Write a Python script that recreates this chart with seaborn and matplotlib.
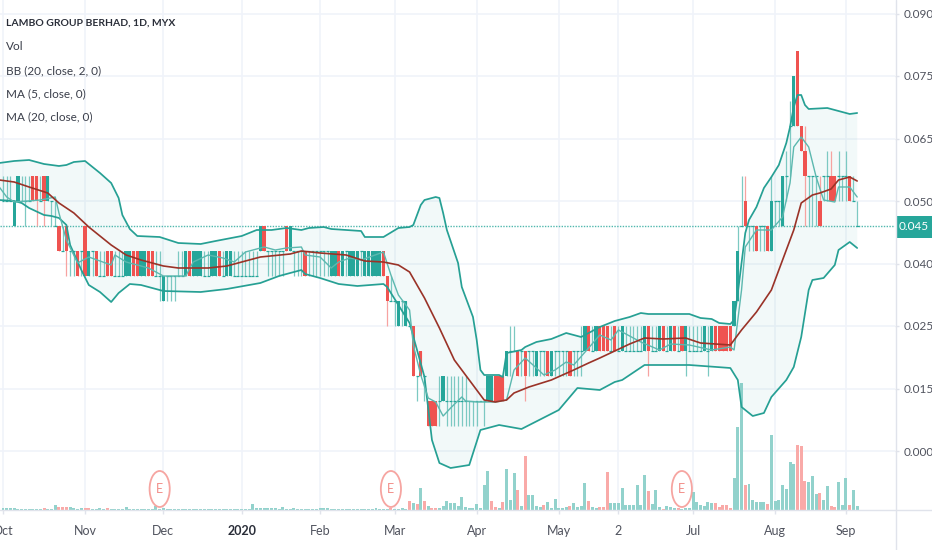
import numpy as np
import seaborn as sns
import matplotlib.pyplot as plt
from matplotlib.lines import Line2D
from matplotlib.patches import Ellipse, Rectangle

# prices are in thousandths of MYR, x is the bar number
opens = [50,50,50,45,50,50,50,50,55,55, 50,55,50,50,45,45,40,45,40,40,
         40,40,45,35,40,40,35,35,40,40, 35,35,35,35,35,40,40,35,35,40,
         40,35,35,30,35,35,35,35,35,35, 40,35,35,35,35,35,35,35,40,35,
         35,35,35,35,35,35,35,35,35,40, 45,40,40,40,40,40,45,40,40,40,
         40,40,40,40,40,40,40,40,35,35, 40,35,40,35,35,35,40,35,35,35,
         35,35,40,35,30,30,25,30,25,25, 25,15,20,15,10,10,10,10,10,10,
         10,10,10,10,10,10,10,10,10,10, 10,10,15,15,15,15,20,20,20,20,
         20,20,20,15,20,20,20,15,20,20, 20,20,20,20,20,20,20,25,20,20,
         25,25,25,20,25,20,20,20,20,20, 20,20,20,25,20,20,20,25,20,20,
         25,20,25,20,20,20,20,20,20,20, 20,25,25,25,25,25,25,30,45,50,
         45,45,45,45,45,45,40,50,50,45, 55,65,65,80,65,60,55,55,55,50,
         55,55,55,55,55,55,55,55,50,45]
closes = [50,50,50,50,55,50,50,50,50,50, 50,50,55,50,45,40,40,40,40,40,
          35,40,35,40,40,35,35,35,35,35, 35,35,35,40,40,35,35,40,40,35,
          35,35,35,35,35,35,35,35,35,40, 35,40,40,40,35,35,40,40,35,35,
          40,40,35,35,35,35,35,35,35,45, 40,40,40,40,40,40,40,45,40,40,
          40,35,40,40,40,40,40,40,40,40, 35,40,40,40,40,40,40,40,40,40,
          40,40,35,30,30,30,30,30,30,25, 15,15,15,15,5,5,5,10,15,10,
          10,10,10,10,10,10,10,10,10,10, 15,15,10,10,10,20,20,20,15,20,
          15,20,20,20,20,20,15,20,20,20, 20,20,15,20,20,20,25,20,20,25,
          20,20,20,20,20,20,25,20,20,20, 20,20,25,20,20,20,25,20,20,25,
          20,20,20,25,20,20,20,20,25,20, 25,20,20,20,20,20,30,40,45,45,
          45,45,40,45,45,40,50,50,50,55, 55,65,75,65,60,55,55,55,55,45,
          55,55,50,50,55,55,55,50,50,45]
highs = [55,55,55,50,55,55,55,55,55,55, 55,55,55,50,50,45,45,45,40,40,
         40,40,45,40,40,40,40,40,40,40, 40,40,40,40,40,40,40,40,40,40,
         40,40,40,35,35,35,35,40,40,40, 40,40,40,40,40,40,40,40,40,40,
         40,40,40,40,40,40,40,40,40,45, 45,40,40,40,40,40,45,45,40,40,
         40,40,40,40,40,40,40,40,40,40, 40,40,40,40,40,40,40,40,40,40,
         40,40,40,35,35,30,30,30,30,25, 25,15,20,15,10,10,10,15,15,15,
         15,15,15,15,15,10,10,10,10,10, 15,15,15,15,15,20,25,25,20,20,
         20,20,20,20,20,20,20,20,20,20, 20,20,20,20,20,25,25,25,25,25,
         25,25,25,25,25,25,25,25,25,25, 25,25,25,25,25,25,25,25,25,25,
         25,25,25,25,25,25,25,25,25,25, 25,25,25,25,25,25,30,45,55,55,
         45,45,45,45,45,45,55,50,50,55, 60,70,75,80,65,65,55,55,55,55,
         55,60,60,55,60,55,60,55,55,50]
lows = [50,50,50,45,50,50,45,50,50,45, 50,45,50,45,45,40,40,35,35,35,
        35,35,35,35,35,35,35,35,35,35, 35,35,35,35,35,35,35,35,35,35,
        35,35,30,30,30,30,30,35,35,35, 35,35,35,35,35,35,35,35,35,35,
        35,35,35,35,35,35,35,35,35,40, 40,35,35,35,35,35,40,40,35,35,
        35,35,35,35,35,35,35,35,35,35, 35,35,35,35,35,35,35,35,35,35,
        35,35,35,25,30,25,25,25,25,25, 15,10,15,10,5,5,5,5,10,5,
        5,5,5,5,5,5,5,5,10,5, 10,10,10,10,10,15,15,20,15,15,
        10,15,15,15,15,15,15,15,15,15, 15,15,15,15,15,15,20,20,20,20,
        20,20,20,20,20,20,20,20,20,20, 20,20,20,15,20,20,20,20,20,20,
        20,20,20,15,20,20,20,20,20,15, 20,20,20,20,20,20,25,30,45,45,
        40,40,40,40,40,40,40,45,45,45, 50,55,65,65,60,45,45,45,45,45,
        50,50,50,50,50,50,50,50,50,45]

volumes = [2,2,2,2,1,1,1,1,1,1, 1,2,1,1,5,3,3,3,3,2,
           1,2,2,2,1,1,2,1,2,1, 1,1,1,3,1,1,1,1,1,1,
           1,4,1,2,1,1,1,1,1,1, 1,1,1,1,1,1,1,1,1,1,
           1,1,1,1,1,1,1,6,2,2, 2,2,2,2,1,3,1,1,2,1,
           1,1,1,1,1,2,2,2,1,1, 1,1,1,1,1,1,1,1,1,1,
           2,1,1,1,2,1,1,2,1,9, 7,6,22,9,4,2,2,2,4,9,
           7,7,4,13,3,2,2,6,2,25, 39,9,3,2,8,41,10,37,20,4,
           54,15,15,4,3,5,8,2,11,2, 2,3,4,7,3,4,27,9,3,2,
           3,3,38,7,7,7,22,5,5,5, 25,5,35,19,6,20,3,1,4,3,
           2,2,1,2,2,18,8,5,4,8, 7,7,3,5,5,2,32,83,127,25,
           26,10,8,8,8,6,75,9,10,25, 21,48,46,65,64,29,28,34,16,17,
           10,24,4,3,28,5,32,5,20,4]
vol_red = [11,15,16,17,22,23,28,104,109,111,113,115,116,131,132,134,138,140,145,152,157,
           160,161,162,173,177,181,191,192,193,194,195,199,205,213,214,215,219,222,223,227]

bb_upper_x = [-1,3,7,11,15,17,19,22,24,26,29,31,32,34,36,42,47,53,57,64,68,72,76,80,82,86,88,96,97,102,106,
              109,110,112,113,116,117,118,119,122,123,126,127,128,129,133,134,135,139,140,143,147,151,155,157,
              160,164,168,171,173,184,187,190,192,195,196,197,199,200,202,204,206,208,210,211,212,213,214,215,
              216,221,223,224,227,229]
bb_upper = [57.6,58,58.2,57.4,57,57.2,57.8,58,56.8,55.6,53.6,50.6,47.2,44.4,43,42.8,41.6,41.4,42,43,44.2,44.2,44.6,44.2,44.6,44.8,44.4,44,42.8,42.8,44.6,
            44.8,45.2,49.2,50.2,50.8,50.6,47.6,44.2,37.6,32.8,26.8,22.2,16.2,15.2,15.2,14.8,19.6,20.2,20.8,21.8,22.4,23.6,22.8,23.6,
            24.8,26,26.8,27.6,27.4,27.4,26.6,26.4,25.6,25.4,26.2,31.6,43.6,46.2,48.8,52.6,54.8,57.2,61.6,64.8,68.8,71.2,71.2,69.2,
            68.4,68.6,68.2,68,67.4,67.6]
bb_lower_x = [-1,3,5,7,11,13,15,17,18,21,23,26,29,31,34,37,43,53,60,69,74,80,81,85,90,95,102,103,109,113,115,117,120,125,128,133,
              139,149,154,160,164,166,172,184,195,197,198,201,204,206,210,212,214,216,217,220,223,224,227,229]
bb_lower = [50.2,50,49.6,48.6,47.2,47,46.6,45.2,41.2,36.2,33.2,31.8,29.8,31.6,33.4,33.2,32,31.8,32.4,33.6,35,36.2,35.4,34.6,33.4,33,33.4,32.8,25.6,14.8,2.2,-2.4,-3.4,-2.8,4.2,5.2,
            4.4,8.2,12.6,12.2,13.8,14.2,17.2,17.2,16.6,14.2,8.8,7,7.6,10.8,14.2,16.8,22.8,32.2,34.2,34.6,37.2,40.2,41.8,40.6]
ma20_x = [-1,3,7,12,15,19,23,29,33,37,43,47,55,60,64,69,77,80,85,92,97,102,106,109,113,117,121,125,129,132,135,137,141,147,153,157,160,
          168,172,177,183,187,195,198,202,206,209,212,214,217,219,222,224,227,229]
ma20 = [54.2,53.8,52.8,51.6,49.6,47.6,44.8,41.2,39.2,38.2,37,36.6,36.6,37,37.8,38.8,39.4,40,39.6,39.2,38,37.8,37.2,35.8,30.6,24.6,18.2,14.2,10.2,9.8,10.2,11.6,12.8,14.2,16.2,17.6,18.6,
        21.4,22.6,22.4,22.6,21.6,21.2,24.2,27.8,32.2,38.2,44.2,49.6,51.2,51.6,52.4,54.2,54.8,54]
ma5_x = [-1,1,3,10,14,15,17,20,23,29,30,33,39,43,49,51,55,59,62,65,70,73,76,80,81,85,88,90,93,96,102,104,106,109,110,112,114,116,118,120,123,124,127,132,135,
         137,140,143,145,148,151,153,157,160,163,165,171,176,179,184,190,195,196,198,199,202,206,209,211,212,214,216,218,220,223,224,227,229]
ma5 = [52.8,50.8,49.8,50.2,50.8,47.6,42.2,37.6,38.8,37.2,39.2,37.8,36.6,35,35,37.8,39.2,38.6,37.8,39.8,40.8,40.2,40.6,40.8,39.2,38.8,36.6,37.8,38.6,38.2,39.8,35.2,31.2,28.2,21.2,15.2,10.6,9.8,7,8.6,10.8,10,9.8,9.8,10.2,
       16.2,18.6,16.6,15.2,16.2,17.8,17.2,20.6,23.2,22.2,24.2,21.8,20.2,21.4,21.2,20.2,20.8,20.2,32.2,40.8,44.2,44.2,46.8,53.6,60.8,62.8,60.8,54.8,50.2,49.8,52.8,52.8,50.8]

month_ticks = [0,22,43,64,85,105,127,149,165,185,207,226]
month_labels = ['Oct','Nov','Dec','2020','Feb','Mar','Apr','May','2','Jul','Aug','Sep']
price_ticks = [0,12.5,25,37.5,50,62.5,75,87.5]
price_labels = ['0.000','0.015','0.025','0.040','0.050','0.065','0.075','0.090']
legend_lines = ['Vol','BB (20, close, 2, 0)','MA (5, close, 0)','MA (20, close, 0)']
earnings_bars = [42,104,182]
last_price = 45

GREEN = '#26a69a'
RED = '#ef5350'
GRID = '#f0f3fa'
AXIS = '#e0e3eb'
TEXT = '#50535e'

W, H = 932, 550

sns.set_theme(style='white')
plt.rcParams['font.family'] = ['Lato', 'Liberation Sans', 'DejaVu Sans']


def fx(px):
    return px / W


def fy(py):
    return 1 - py / H


fig = plt.figure(figsize=(W / 100, H / 100), dpi=100)
ax = fig.add_axes([0, fy(510), fx(895), 510 / H])
ax_vol = ax.twinx()

x = np.arange(len(opens))
o = np.array(opens)
c = np.array(closes)
h = np.array(highs)
l = np.array(lows)
down = c < o

# volume has its own scale, bars start at the time axis
vol_side = np.where(np.isin(x, vol_red), '#f9aaa8', '#92d2cc')
ax_vol.bar(x, volumes, color=vol_side, width=0.8, lw=0, zorder=2)
ax_vol.set_ylim(0, 510)
ax_vol.set_yticks([])
ax_vol.grid(False)
for s in ax_vol.spines.values():
    s.set_visible(False)

# bollinger band
ax.fill(np.r_[bb_upper_x, bb_lower_x[::-1]], np.r_[bb_upper, bb_lower[::-1]], color=GREEN, alpha=0.06, lw=0, zorder=1)
ax.axhline(last_price, color=GREEN, ls=(0, (1, 1)), lw=1, alpha=0.8, zorder=2)

# wicks then bodies
ax.vlines(x[~down], l[~down], h[~down], color='#7cc9c2', lw=0.9, zorder=3)
ax.vlines(x[down], l[down], h[down], color='#f7a3a1', lw=0.9, zorder=3)
body = np.abs(c - o)
solid = body > 0
colors = np.where(down, RED, GREEN)
ax.bar(x[solid], body[solid], bottom=np.minimum(o, c)[solid], width=0.88, color=colors[solid], lw=0, zorder=4)
ax.hlines(c[~solid], x[~solid] - 0.4, x[~solid] + 0.4, color=GREEN, lw=0.9, zorder=4)

sns.lineplot(x=bb_upper_x, y=bb_upper, color='#26a094', lw=1.25, estimator=None, sort=False, ax=ax, zorder=5)
sns.lineplot(x=bb_lower_x, y=bb_lower, color='#26a094', lw=1.25, estimator=None, sort=False, ax=ax, zorder=5)
sns.lineplot(x=ma5_x, y=ma5, color='#5cb8af', lw=1, estimator=None, sort=False, ax=ax, zorder=6)
sns.lineplot(x=ma20_x, y=ma20, color='#9a3328', lw=1.2, estimator=None, sort=False, ax=ax, zorder=7)

ax.set_xlim(-3 / 3.73, 892 / 3.73)
ax.set_ylim(-11.8, 90.2)
ax.set_zorder(ax_vol.get_zorder() + 1)
ax.patch.set_visible(False)
ax_vol.patch.set_facecolor('white')
ax_vol.patch.set_visible(True)

ax.yaxis.tick_right()
ax.yaxis.set_label_position('right')
ax.set_yticks(price_ticks)
ax.set_yticklabels(price_labels, fontsize=8.5, color=TEXT)
ax.set_xticks(month_ticks)
ax.set_xticklabels(month_labels, fontsize=9, color=TEXT)
ax.get_xticklabels()[3].set_fontweight('bold')
ax.get_xticklabels()[3].set_color('#2a2e39')
ax.tick_params(axis='y', length=3, width=1, color=AXIS, pad=3, right=True)
ax.tick_params(axis='x', length=3, width=1, color=AXIS, pad=8, bottom=True)
for s in ax.spines.values():
    s.set_visible(False)

# grid goes on the volume axes so it stays behind everything
for v in price_ticks:
    ax_vol.axhline((v + 11.8) * 5, color=GRID, lw=1.2, zorder=0)
for v in month_ticks:
    ax_vol.axvline(v, color=GRID, lw=1.2, zorder=0)

# earnings markers
for b in earnings_bars:
    ax.add_patch(Ellipse((b, -7.6), 5.4, 7.2, fc='white', ec='#f6a5a1', lw=1.3, zorder=8))
    ax.text(b, -7.6, 'E', color='#f28f8a', ha='center', va='center', fontsize=9, zorder=9)

# price scale border and last price tag
fig.add_artist(Line2D([fx(895.5), fx(895.5)], [0, 1], color=AXIS, lw=1))
fig.add_artist(Line2D([0, 1], [fy(510), fy(510)], color=AXIS, lw=1))
fig.add_artist(Rectangle((fx(896), fy(238)), 36 / W, 22 / H, color=GREEN, lw=0, transform=fig.transFigure))
fig.text(fx(914), fy(227), '0.045', color='white', fontsize=8.5, ha='center', va='center')

fig.text(fx(6), fy(23), 'LAMBO GROUP BERHAD, 1D, MYX', color='#2a2e39', fontsize=7.5, fontweight='bold', va='center')
for ypix, t in zip([47, 71, 94, 117], legend_lines):
    fig.text(fx(6), fy(ypix), t, color='#3a3e4a', fontsize=8.5, va='center')

fig.savefig('out.png', dpi=100)
